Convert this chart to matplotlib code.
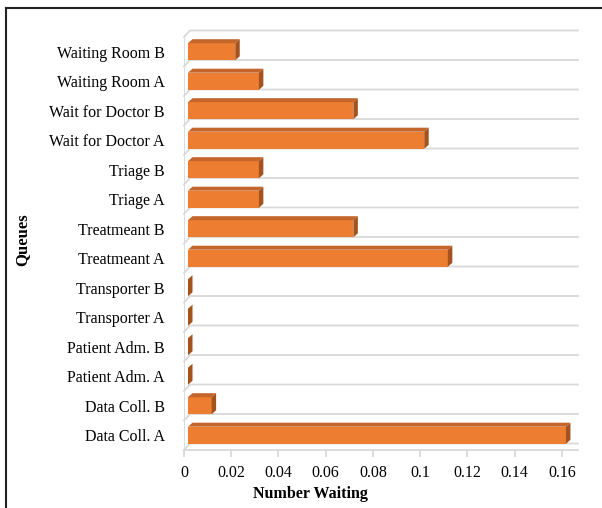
import matplotlib.pyplot as plt
import numpy as np
from matplotlib.patches import Polygon
from matplotlib.lines import Line2D

plt.rcParams['font.family'] = ['Liberation Serif', 'DejaVu Serif']

# queues, bottom to top as drawn
queues = ['Data Coll. A', 'Data Coll. B', 'Patient Adm. A', 'Patient Adm. B',
          'Transporter A', 'Transporter B', 'Treatmeant A', 'Treatmeant B',
          'Triage A', 'Triage B', 'Wait for Doctor A', 'Wait for Doctor B',
          'Waiting Room A', 'Waiting Room B']
waiting = [0.16, 0.01, 0.0, 0.0, 0.0, 0.0, 0.11, 0.07,
           0.03, 0.03, 0.10, 0.07, 0.03, 0.02]
xticks = [0, 0.02, 0.04, 0.06, 0.08, 0.1, 0.12, 0.14, 0.16]
xtick_labels = ['0', '0.02', '0.04', '0.06', '0.08', '0.1', '0.12', '0.14', '0.16']

front = '#ED7D31'
top = '#C4652B'
side = '#A4531E'
grid = '#D9D9D9'

W, H = 602, 508
fig = plt.figure(figsize=(W / 100, H / 100), dpi=100)
ax_l, ax_r, ax_t, ax_b = 184, 578, 37, 450
ax = fig.add_axes([ax_l / W, 1 - ax_b / H, (ax_r - ax_l) / W, (ax_b - ax_t) / H])
xmax = 0.1668
ax.set_xlim(0, xmax)
ax.set_ylim(-0.5, len(queues) - 0.5)

# pixel -> data conversions for the 3d look
px_x = xmax / (ax_r - ax_l)
px_y = len(queues) / (ax_b - ax_t)
dep_x, dep_y = 4.5 * px_x, 4 * px_y     # bar depth
back_x, back_y = 6 * px_x, 6.5 * px_y   # back wall offset
x0 = 4 * px_x                           # bars start at the wall front
h = 0.58

y = np.arange(len(queues))

# floor lines between categories and the left wall
for b in np.arange(len(queues) + 1) - 0.5:
    ax.add_line(Line2D([0, back_x, xmax], [b, b + back_y, b + back_y],
                       color=grid, lw=1.3, zorder=0, clip_on=False))
ax.add_line(Line2D([0, 0], [-0.5, len(queues) - 0.5],
                   color=grid, lw=1.3, zorder=0))

ax.barh(y, waiting, left=x0, height=h, color=front, zorder=3)
for yi, v in zip(y, waiting):
    xe = x0 + v
    ax.add_patch(Polygon([(x0, yi + h / 2), (xe, yi + h / 2),
                          (xe + dep_x, yi + h / 2 + dep_y), (x0 + dep_x, yi + h / 2 + dep_y)],
                         closed=True, facecolor=top, edgecolor='none', zorder=3))
    ax.add_patch(Polygon([(xe, yi - h / 2), (xe + dep_x, yi - h / 2 + dep_y),
                          (xe + dep_x, yi + h / 2 + dep_y), (xe, yi + h / 2)],
                         closed=True, facecolor=side, edgecolor='none', zorder=3))

ax.set_yticks(y)
ax.set_yticklabels(queues, fontsize=11.5)
ax.set_xticks(xticks)
ax.set_xticklabels(xtick_labels, fontsize=11.5)
ax.tick_params(axis='y', length=0, pad=14)
ax.tick_params(axis='x', length=5, width=1.3, color=grid, pad=6)
for s in ax.spines.values():
    s.set_visible(False)
ax.spines['bottom'].set_visible(True)
ax.spines['bottom'].set_color(grid)
ax.spines['bottom'].set_linewidth(1.3)

fig.text(310 / W, 1 - 494 / H, 'Number Waiting', ha='center', va='center',
         fontsize=11.5, fontweight='bold')
fig.text(22 / W, 1 - 240 / H, 'Queues', ha='center', va='center',
         fontsize=12, fontweight='bold', rotation=90)

# chart border
fig.add_artist(Line2D([6 / W, 6 / W], [0, 1 - 8 / H], color='#222222', lw=1.5))
fig.add_artist(Line2D([6 / W, 1], [1 - 8 / H, 1 - 8 / H], color='#222222', lw=1.5))

fig.savefig('out.png', dpi=100)
